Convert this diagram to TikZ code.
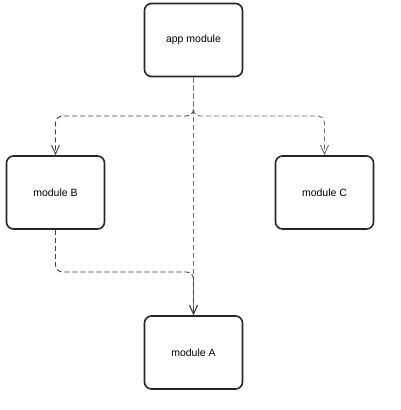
\documentclass[tikz,border=0pt]{standalone}
\usepackage{fontspec}
\setmainfont{Liberation Sans}
\usetikzlibrary{arrows.meta}
\begin{document}
\begin{tikzpicture}[x=1pt,y=-1pt,
  modbox/.style={draw=black!85,line width=1.6pt,rounded corners=7pt,minimum width=98pt,minimum height=73pt,inner sep=0pt,font=\fontsize{10.5}{12}\selectfont},
  dep/.style={dashed,dash pattern=on 5pt off 3pt,line width=0.9pt,rounded corners=7pt,-{Straight Barb[length=9pt,width=8pt,line width=0.9pt]}},
  dark/.style={draw=black!75},
  light/.style={draw=black!55}]
\useasboundingbox (0,0) rectangle (401,410);
\node[modbox] (app) at (193.5,40) {app module};
\node[modbox] (B) at (55.5,192.5) {module B};
\node[modbox] (C) at (324.5,192.5) {module C};
\node[modbox] (A) at (193.5,352.5) {module A};
\draw[dep,dark] (app.south) |- (55.5,116) -- (B.north);
\draw[dep,light] (app.south) |- (324.5,116) -- (C.north);
\draw[dep,light] (app.south) -- (A.north);
\draw[dep,dark] (B.south) |- (193.5,272) -- (A.north);
\end{tikzpicture}
\end{document}
